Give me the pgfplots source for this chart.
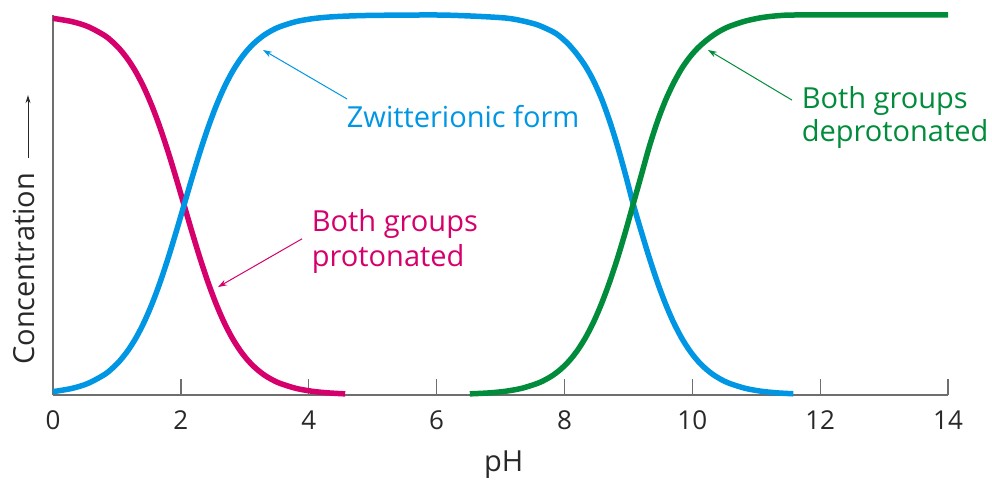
\documentclass[border=0pt]{standalone}
\usepackage{pgfplots}
\pgfplotsset{compat=1.18}
\usetikzlibrary{arrows.meta}
\usepackage{fontspec}
\setmainfont{Open Sans}

\definecolor{protcol}{RGB}{214,0,108}
\definecolor{zwitcol}{RGB}{0,150,228}
\definecolor{deprcol}{RGB}{0,140,58}
\definecolor{axcol}{RGB}{110,110,110}
\definecolor{txtcol}{RGB}{40,40,40}

\newcommand{\lblfont}{\fontsize{29}{29}\selectfont}

\begin{document}
\begin{tikzpicture}
\useasboundingbox (-53pt,-84pt) rectangle (939pt,395pt);
\begin{axis}[
    width=895pt,
    height=380pt,
    scale only axis,
    xmin=0, xmax=14,
    ymin=0, ymax=1,
    axis lines=left,
    axis line style={-, axcol, line width=1.6pt},
    xtick={0,2,...,14},
    ytick=\empty,
    tick align=inside,
    major tick length=16pt,
    tick style={axcol, line width=1.3pt},
    /pgf/number format/assume math mode=true,
    tick label style={font=\fontsize{26}{26}\selectfont, text=txtcol},
    xticklabel style={yshift=-12pt},
    clip=false,
]

% both groups protonated
\addplot[protcol, line width=5.5pt, smooth] table {
0.000 0.9912
0.300 0.9825
0.550 0.9693
0.800 0.9468
0.925 0.9302
1.050 0.9091
1.175 0.8823
1.300 0.8490
1.425 0.8083
1.550 0.7597
1.675 0.7034
1.800 0.6401
1.925 0.5715
2.050 0.5000
2.175 0.4285
2.300 0.3599
2.425 0.2966
2.550 0.2403
2.675 0.1917
2.800 0.1510
2.925 0.1177
3.050 0.0909
3.175 0.0698
3.300 0.0532
3.425 0.0405
3.550 0.0307
3.800 0.0175
4.050 0.0099
4.300 0.0056
4.570 0.0030
};

% zwitterionic form
\addplot[zwitcol, line width=5.5pt, smooth] table {
0.000 0.0088
0.300 0.0175
0.550 0.0307
0.800 0.0532
0.925 0.0698
1.050 0.0909
1.175 0.1177
1.300 0.1510
1.425 0.1917
1.550 0.2403
1.675 0.2966
1.800 0.3599
1.925 0.4285
2.050 0.5000
2.175 0.5715
2.300 0.6401
2.425 0.7034
2.550 0.7597
2.675 0.8083
2.800 0.8490
2.925 0.8823
3.050 0.9091
3.175 0.9302
3.300 0.9468
3.425 0.9595
3.550 0.9693
3.800 0.9825
4.050 0.9901
4.300 0.9944
4.550 0.9968
5.000 0.9990
6.000 1.0000
6.580 0.9970
7.080 0.9920
7.330 0.9850
7.580 0.9740
7.830 0.9550
7.955 0.9400
8.080 0.9200
8.205 0.8950
8.330 0.8650
8.455 0.8270
8.580 0.7800
8.705 0.7220
8.830 0.6550
8.955 0.5800
9.080 0.5000
9.205 0.4285
9.330 0.3599
9.455 0.2966
9.580 0.2403
9.705 0.1917
9.830 0.1510
9.955 0.1177
10.080 0.0909
10.205 0.0698
10.330 0.0532
10.455 0.0405
10.580 0.0307
10.830 0.0175
11.080 0.0099
11.330 0.0056
11.580 0.0032
};

% both groups deprotonated
\addplot[deprcol, line width=5.5pt, smooth] table {
6.520 0.0030
6.830 0.0056
7.080 0.0099
7.330 0.0175
7.580 0.0307
7.705 0.0405
7.830 0.0532
7.955 0.0698
8.080 0.0909
8.205 0.1177
8.330 0.1510
8.455 0.1917
8.580 0.2403
8.705 0.2966
8.830 0.3599
8.955 0.4300
9.080 0.5050
9.205 0.5800
9.330 0.6550
9.455 0.7200
9.580 0.7750
9.705 0.8200
9.830 0.8580
9.955 0.8880
10.080 0.9120
10.205 0.9310
10.330 0.9470
10.455 0.9600
10.580 0.9700
10.830 0.9840
11.080 0.9930
11.330 0.9980
11.600 1.0000
12.500 1.0000
14.000 1.0000
};

% annotations
\draw[zwitcol, line width=1pt, -{Stealth[length=9pt,width=6pt]}]
    (axis cs:4.60,0.779) -- (axis cs:3.285,0.908);
\node[anchor=base west, inner sep=0pt, text=zwitcol, font=\lblfont]
    at (axis cs:4.594,0.705) {Zwitterionic form};

\draw[protcol, line width=1pt, -{Stealth[length=9pt,width=6pt]}]
    (axis cs:3.895,0.411) -- (axis cs:2.581,0.284);
\node[anchor=base west, inner sep=0pt, text=protcol, font=\lblfont]
    at (axis cs:4.047,0.429) {Both groups};
\node[anchor=base west, inner sep=0pt, text=protcol, font=\lblfont]
    at (axis cs:4.047,0.337) {protonated};

\draw[deprcol, line width=1pt, -{Stealth[length=9pt,width=6pt]}]
    (axis cs:11.56,0.776) -- (axis cs:10.245,0.908);
\node[anchor=base west, inner sep=0pt, text=deprcol, font=\lblfont]
    at (axis cs:11.71,0.755) {Both groups};
\node[anchor=base west, inner sep=0pt, text=deprcol, font=\lblfont]
    at (axis cs:11.71,0.666) {deprotonated};

% axis titles
\node[anchor=base, inner sep=0pt, text=txtcol, font=\lblfont]
    at (axis cs:7.05,-0.2026) {pH};
\node[rotate=90, anchor=base west, inner sep=0pt, text=txtcol, font=\lblfont]
    at (axis cs:-0.282,0.079) {Concentration};
\draw[txtcol, line width=0.9pt, -{Stealth[length=8pt,width=5pt]}]
    (axis cs:-0.391,0.624) -- (axis cs:-0.391,0.789);

\end{axis}
\end{tikzpicture}
\end{document}
